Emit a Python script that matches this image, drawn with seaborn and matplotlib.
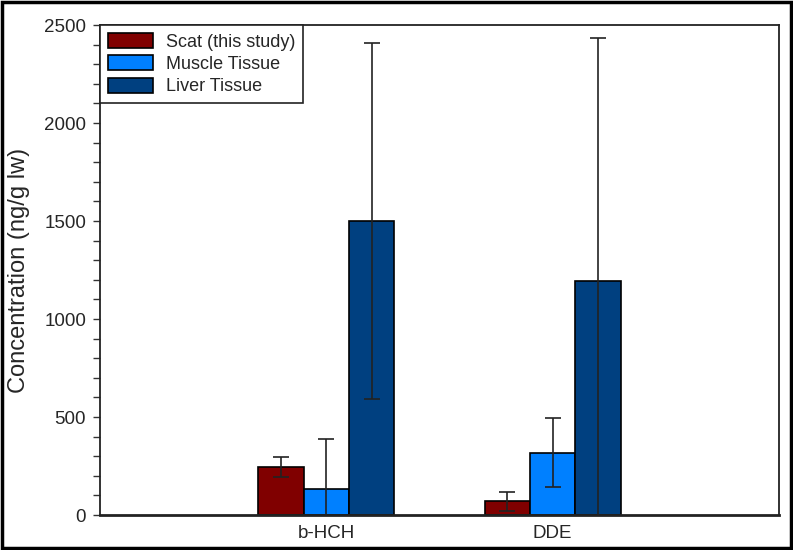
import numpy as np
import pandas as pd
import seaborn as sns
import matplotlib.pyplot as plt
from matplotlib.patches import Rectangle
from matplotlib.ticker import MultipleLocator

# values
compounds = ["b-HCH", "DDE"]
groups = ["Scat (this study)", "Muscle Tissue", "Liver Tissue"]
scat = [246, 70]
muscle = [134, 318]
liver = [1500, 1194]
scat_err = [52, 47]
muscle_err = [255, 175]
liver_err = [910, 1240]
colors = ["#800000", "#0080ff", "#004080"]

data = pd.DataFrame({
    "compound": compounds * 3,
    "group": [g for g in groups for _ in compounds],
    "value": scat + muscle + liver,
})
errors = [scat_err, muscle_err, liver_err]

sns.set_style("white")
plt.rcParams["font.family"] = ["Liberation Sans", "DejaVu Sans"]

fig = plt.figure(figsize=(7.93, 5.5), dpi=100)
ax = fig.add_axes([0.1261, 0.0636, 0.8562, 0.8909])

sns.barplot(data=data, x="compound", y="value", hue="group", order=compounds,
            hue_order=groups, palette=colors, width=0.6, gap=0,
            errorbar=None, edgecolor="black", linewidth=1.2, saturation=1, ax=ax)

# error bars at the centres of the drawn bars
for cont, err in zip(ax.containers, errors):
    xs = [b.get_x() + b.get_width() / 2 for b in cont]
    ys = [b.get_height() for b in cont]
    ax.errorbar(xs, ys, yerr=err, fmt="none", ecolor="#222222",
                elinewidth=1.2, capsize=6, capthick=1.2)

ax.set_xlim(-1, 2)
ax.set_ylim(0, 2500)
ax.yaxis.set_major_locator(MultipleLocator(500))
ax.yaxis.set_minor_locator(MultipleLocator(100))
ax.tick_params(axis="y", which="both", left=True, direction="out",
               length=5, width=1, color="#333333", labelsize=13.5, pad=5)
ax.tick_params(axis="x", bottom=False, labelsize=13.5)
ax.set_xlabel("")
ax.set_ylabel("Concentration (ng/g lw)", fontsize=17, labelpad=10)
for s in ax.spines.values():
    s.set_visible(True)
    s.set_color("#222222")
    s.set_linewidth(1.3)
ax.spines["bottom"].set_linewidth(2)

leg = ax.legend(loc="upper left", borderaxespad=0, fancybox=False,
                edgecolor="#222222", framealpha=1, fontsize=13,
                handlelength=2.5, handleheight=0.9, labelspacing=0.25,
                handletextpad=0.7, borderpad=0.45, title=None)
leg.get_frame().set_linewidth(1.2)

fig.patches.append(Rectangle((0.002, 0.004), 0.995, 0.992, transform=fig.transFigure,
                             fill=False, edgecolor="black", linewidth=2.5))

fig.savefig("out.png", dpi=100)
